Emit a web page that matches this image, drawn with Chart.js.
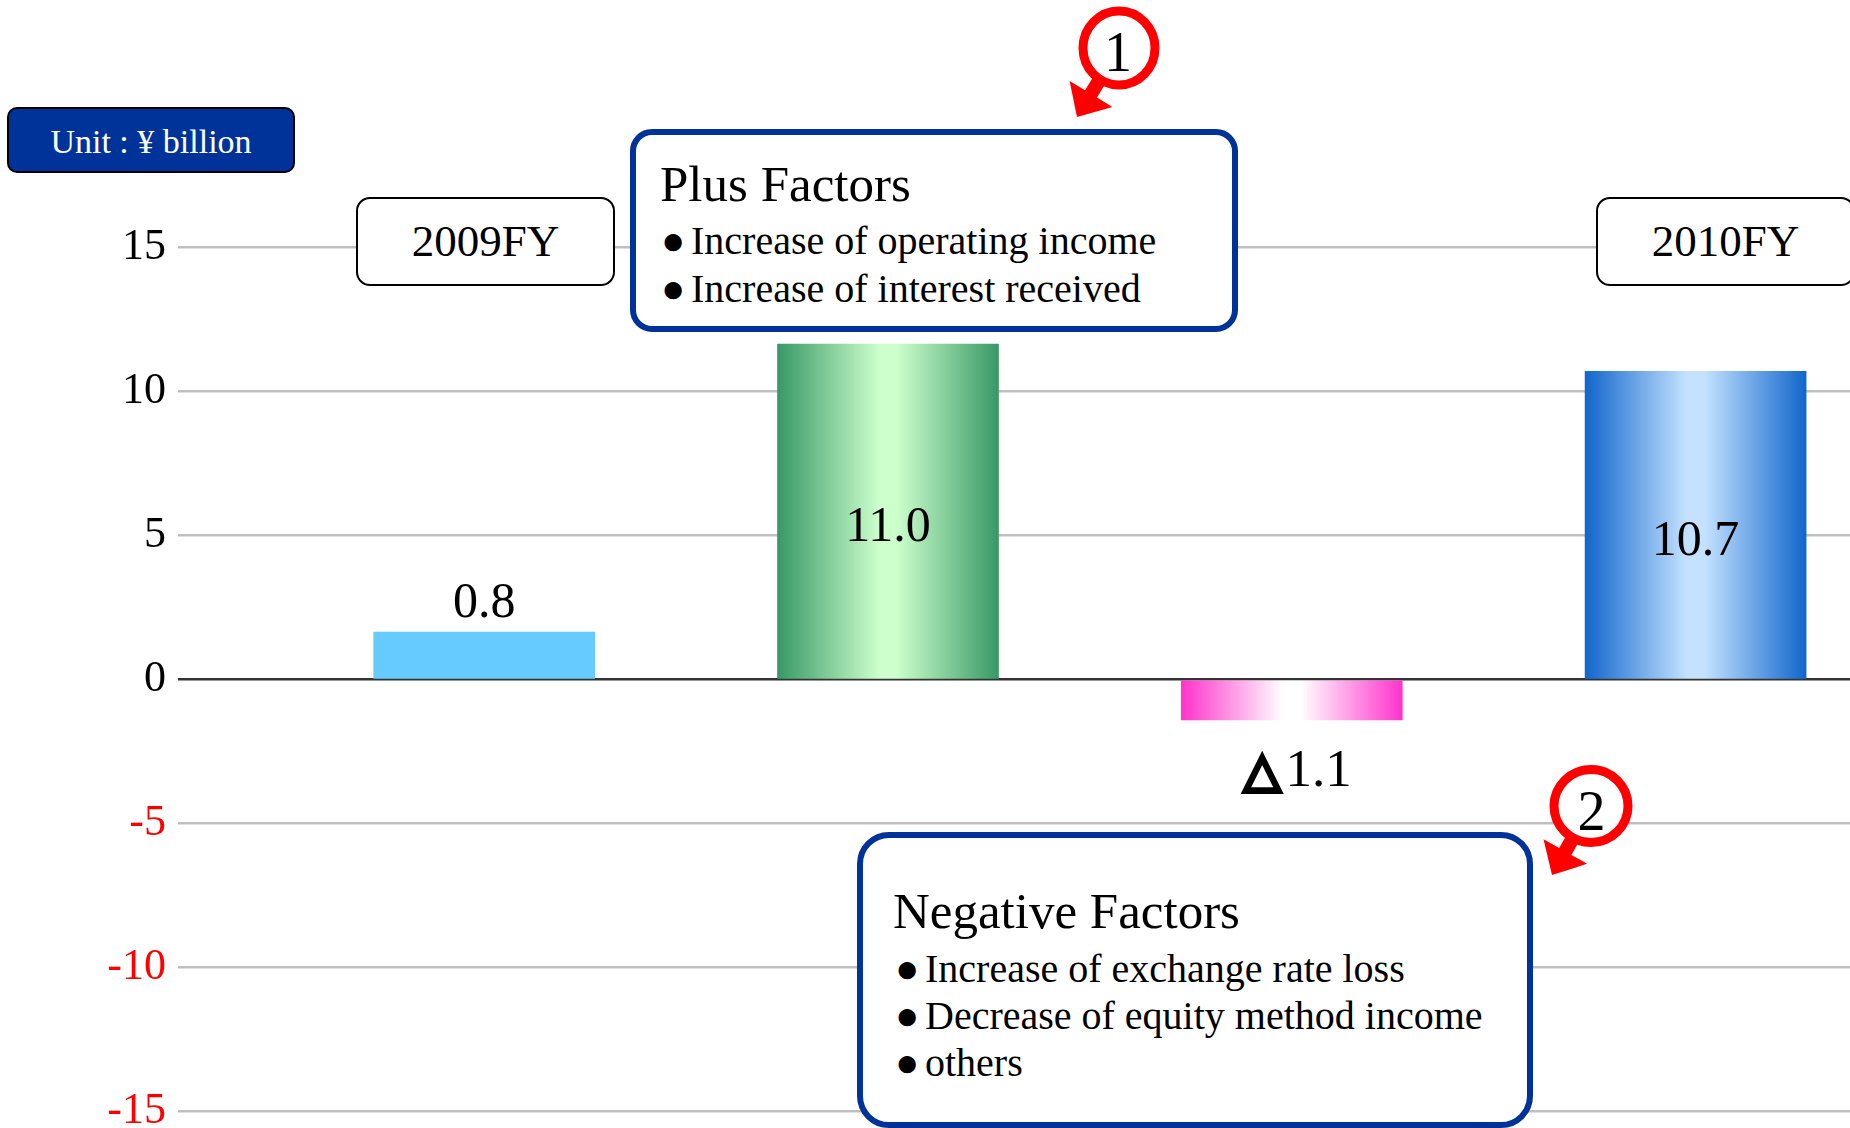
<!DOCTYPE html>
<html>
<head>
<meta charset="utf-8">
<title>Ordinary income change 2009FY to 2010FY</title>
<script src="https://cdn.jsdelivr.net/npm/chart.js@4.4.0/dist/chart.umd.min.js"></script>
<style>
  html, body { margin: 0; padding: 0; background: #fff; overflow: hidden; }
  #wrap { position: relative; width: 1850px; height: 1128px; overflow: hidden;
    font-family: "Liberation Serif", "Times New Roman", serif; color: #000; }
  #chart { position: absolute; left: 0; top: 0; }
  .box { position: absolute; box-sizing: border-box; background: #fff; }
  .year { border: 2px solid #000; border-radius: 14px; font-size: 45px; line-height: 85px;
    text-align: center; width: 259px; height: 89px; top: 197px; }
  .unit { left: 7px; top: 107px; width: 288px; height: 66px; background: #003399;
    border: 2px solid #000; border-radius: 10px; color: #fff; font-size: 34px;
    line-height: 66px; text-align: center; }
  .factors { border: 6px solid #003399; }
  .line { position: absolute; white-space: nowrap; line-height: 1; }
  .title { font-size: 51px; }
  .item { font-size: 40px; }
  .bul { display: inline-block; width: 30px; font-size: 40px; line-height: 1; }
  #marks { position: absolute; left: 0; top: 0; }
</style>
</head>
<body>
<div id="wrap">
  <canvas id="chart" width="1850" height="1150"></canvas>

  <div class="box unit">Unit : ¥ billion</div>
  <div class="box year" style="left:356px">2009FY</div>
  <div class="box year" style="left:1596px">2010FY</div>

  <div class="box factors" style="left:630px; top:129px; width:608px; height:203px; border-radius:22px"></div>
  <div class="line title" style="left:660px; top:159px">Plus Factors</div>
  <div class="line item" style="left:661px; top:221px"><span class="bul">●</span>Increase of operating income</div>
  <div class="line item" style="left:661px; top:269px"><span class="bul">●</span>Increase of interest received</div>

  <div class="box factors" style="left:857px; top:832px; width:676px; height:296px; border-radius:32px"></div>
  <div class="line title" style="left:893px; top:886px">Negative Factors</div>
  <div class="line item" style="left:895px; top:949px"><span class="bul">●</span>Increase of exchange rate loss</div>
  <div class="line item" style="left:895px; top:996px"><span class="bul">●</span>Decrease of equity method income</div>
  <div class="line item" style="left:895px; top:1043px"><span class="bul">●</span>others</div>

  <svg id="marks" width="1850" height="1128" font-family="Liberation Serif">
    <ellipse cx="1119" cy="48" rx="36" ry="37" fill="#fff" stroke="#FF0000" stroke-width="9"/>
    <polygon fill="#FF0000" points="1107.3,80.6 1097,97.5 1112.4,106.9 1077,117 1069.6,80.9 1085,90.3 1095.3,73.4"/>
    <text x="1118" y="71" font-size="56" text-anchor="middle">1</text>
    <ellipse cx="1591" cy="806" rx="37" ry="36.5" fill="#fff" stroke="#FF0000" stroke-width="9"/>
    <polygon fill="#FF0000" points="1580.4,839 1571.4,854.9 1587.1,863.8 1552,875 1543.5,839.2 1559.2,848.1 1568.2,832.2"/>
    <text x="1591.5" y="830" font-size="56" text-anchor="middle">2</text>
  </svg>
</div>

<script>
const categories = ["2009FY", "Plus Factors", "Negative Factors", "2010FY"];
const barValues = [1.65, 11.65, -1.4, 10.7];
const valueLabels = ["0.8", "11.0", "△1.1", "10.7"];
const yTicks = [15, 10, 5, 0, -5, -10, -15];

// edge colour, centre colour of each bar
const barColors = [
  ["#66CCFF", "#66CCFF"],
  ["#389966", "#CCFFCC"],
  ["#FF33CC", "#FFFFFF"],
  ["#1166CC", "#C4E2FF"],
];
const BAR_W = 221;

const ctx = document.getElementById("chart").getContext("2d");

const fillFor = (context) => {
  const chart = context.chart;
  const i = context.dataIndex;
  const [edge, mid] = barColors[i] || barColors[0];
  if (!chart.chartArea || edge === mid) return edge;
  const cx = chart.scales.x.getPixelForValue(i);
  const g = chart.ctx.createLinearGradient(cx - BAR_W / 2, 0, cx + BAR_W / 2, 0);
  g.addColorStop(0, edge);
  g.addColorStop(0.46, mid);
  g.addColorStop(0.54, mid);
  g.addColorStop(1, edge);
  return g;
};

const valueLabelPlugin = {
  id: "valueLabels",
  afterDatasetsDraw(chart) {
    const c = chart.ctx;
    const bars = chart.getDatasetMeta(0).data;
    c.save();
    c.fillStyle = "#000";
    c.strokeStyle = "#000";
    c.textBaseline = "alphabetic";
    bars.forEach((bar, i) => {
      const v = barValues[i];
      let y;
      if (Math.abs(v) > 5) y = (bar.y + bar.base) / 2 + 30;
      else if (v > 0) y = bar.y - 15;
      else y = bar.y + 66;
      const text = valueLabels[i];
      if (text.startsWith("△")) {
        // negative marker drawn heavier, like the original
        const rest = text.slice(1);
        c.font = '48px "DejaVu Sans"';
        const w1 = c.measureText("△").width + 5;
        c.font = '53px "Liberation Serif"';
        const w2 = c.measureText(rest).width;
        const x = bar.x - (w1 + w2) / 2 + 6;
        c.textAlign = "left";
        c.font = '48px "DejaVu Sans"';
        c.lineWidth = 4;
        c.lineJoin = "miter";
        c.fillText("△", x, y);
        c.strokeText("△", x, y);
        c.font = '53px "Liberation Serif"';
        c.fillText(rest, x + w1, y);
      } else {
        c.textAlign = "center";
        c.font = '50px "Liberation Serif"';
        c.fillText(text, bar.x, y);
      }
    });
    c.restore();
  },
};

const createChart = () => {
  new Chart(ctx, {
    type: "bar",
    data: {
      labels: categories,
      datasets: [
        {
          data: barValues.map((v, i) => ({ x: i, y: v })),
          backgroundColor: fillFor,
          borderWidth: 0,
          barThickness: BAR_W,
        },
      ],
    },
    options: {
      responsive: false,
      animation: false,
      devicePixelRatio: 1,
      layout: { padding: { top: 247.6, bottom: 37.4, left: 0, right: 0 } },
      plugins: { legend: { display: false }, tooltip: { enabled: false } },
      scales: {
        x: {
          type: "linear",
          display: false,
          offset: false,
          min: -0.7583,
          max: 3.3824,
        },
        y: {
          min: -15,
          max: 15,
          afterBuildTicks: (scale) => {
            scale.ticks = yTicks.map((v) => ({ value: v }));
          },
          afterFit: (scale) => {
            scale.width = 178;
          },
          border: { display: false },
          grid: {
            drawTicks: false,
            color: (c) => (c.tick && c.tick.value === 0 ? "#333333" : "#BFBFBF"),
            lineWidth: 2.5,
          },
          ticks: {
            padding: 12,
            color: (c) => (c.tick.value < 0 ? "#FF0000" : "#000000"),
            font: { family: "Liberation Serif", size: 44 },
          },
        },
      },
    },
    plugins: [valueLabelPlugin],
  });
};

document.addEventListener("DOMContentLoaded", createChart);
</script>
</body>
</html>
